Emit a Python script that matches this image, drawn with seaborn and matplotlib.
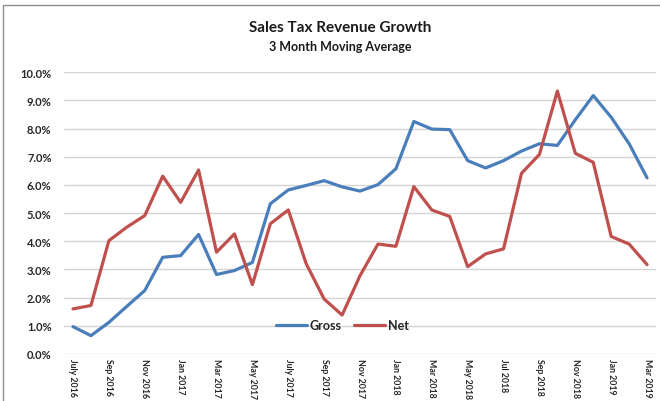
import numpy as np
import pandas as pd
import matplotlib
matplotlib.use("Agg")
import matplotlib.pyplot as plt
import seaborn as sns
from matplotlib.patches import Rectangle

# meses: julho 2016 a março 2019 (33 pontos)
months = ["Jul 2016", "Aug 2016", "Sep 2016", "Oct 2016", "Nov 2016", "Dec 2016",
          "Jan 2017", "Feb 2017", "Mar 2017", "Apr 2017", "May 2017", "Jun 2017",
          "Jul 2017", "Aug 2017", "Sep 2017", "Oct 2017", "Nov 2017", "Dec 2017",
          "Jan 2018", "Feb 2018", "Mar 2018", "Apr 2018", "May 2018", "Jun 2018",
          "Jul 2018", "Aug 2018", "Sep 2018", "Oct 2018", "Nov 2018", "Dec 2018",
          "Jan 2019", "Feb 2019", "Mar 2019"]

gross = [0.97, 0.65, 1.12, 1.69, 2.25, 3.43, 3.49, 4.24, 2.82, 2.96, 3.25,
         5.33, 5.82, 5.98, 6.15, 5.93, 5.78, 6.01, 6.57, 8.25, 7.98, 7.96,
         6.86, 6.60, 6.86, 7.20, 7.46, 7.40, 8.31, 9.17, 8.40, 7.46, 6.25]

net = [1.60, 1.72, 4.02, 4.50, 4.91, 6.31, 5.38, 6.53, 3.61, 4.26, 2.46,
       4.62, 5.11, 3.20, 1.95, 1.38, 2.78, 3.90, 3.82, 5.94, 5.11, 4.88,
       3.10, 3.55, 3.73, 6.41, 7.08, 9.33, 7.12, 6.80, 4.17, 3.90, 3.17]

tick_labels = ["July 2016", "Sep 2016", "Nov 2016", "Jan 2017", "Mar 2017",
               "May 2017", "July 2017", "Sep 2017", "Nov 2017", "Jan 2018",
               "Mar 2018", "May 2018", "Jul 2018", "Sep 2018", "Nov 2018",
               "Jan 2019", "Mar 2019"]

df = pd.DataFrame({
    "idx": list(range(len(months))) * 2,
    "valor": gross + net,
    "serie": ["Gross"] * len(months) + ["Net"] * len(months),
})

sns.set_style("white")
plt.rcParams["font.family"] = ["Lato", "DejaVu Sans"]

fig = plt.figure(figsize=(6.6, 4.02), dpi=100)
ax = fig.add_axes([0.097, 0.117, 0.897, 0.701])

sns.lineplot(data=df, x="idx", y="valor", hue="serie",
             palette={"Gross": "#4a7ebb", "Net": "#c0504d"},
             linewidth=2.3, ax=ax)

ax.set_xlim(-0.5, len(months) - 0.5)
ax.set_ylim(0, 10)
ax.set_yticks(np.arange(0, 10.5, 1))
ax.set_yticklabels([f"{v:.1f}%" for v in np.arange(0, 10.5, 1)],
                   fontsize=8, fontweight="bold", color="#262626")
ax.set_xticks(range(0, len(months), 2))
ax.set_xticklabels(tick_labels, rotation=270, fontsize=6.3, fontweight="bold",
                   color="#262626", va="top", ha="center")
ax.tick_params(axis="y", length=0, pad=9)
ax.tick_params(axis="x", length=0, pad=3)
ax.set_xlabel("")
ax.set_ylabel("")
ax.grid(axis="y", color="#d4d4d4", linewidth=1)
ax.set_axisbelow(True)
for s in ax.spines.values():
    s.set_visible(False)

ax.legend(loc="center", bbox_to_anchor=(0.47, 0.103), ncol=2, frameon=False,
          prop={"weight": "bold", "size": 9}, handlelength=2.5,
          columnspacing=1.0, handletextpad=0.2)

fig.text(0.515, 0.93, "Sales Tax Revenue Growth", ha="center", va="center",
         fontsize=11, fontweight="bold", color="#1a1a1a")
fig.text(0.515, 0.882, "3 Month Moving Average", ha="center", va="center",
         fontsize=9, fontweight="bold", color="#1a1a1a")

fig.patches.append(Rectangle((3 / 660, -0.05), 1.2, 1 - 6 / 402 + 0.05,
                             transform=fig.transFigure, fill=False,
                             edgecolor="#8c8c8c", linewidth=1))

fig.savefig("out.png", dpi=100)
